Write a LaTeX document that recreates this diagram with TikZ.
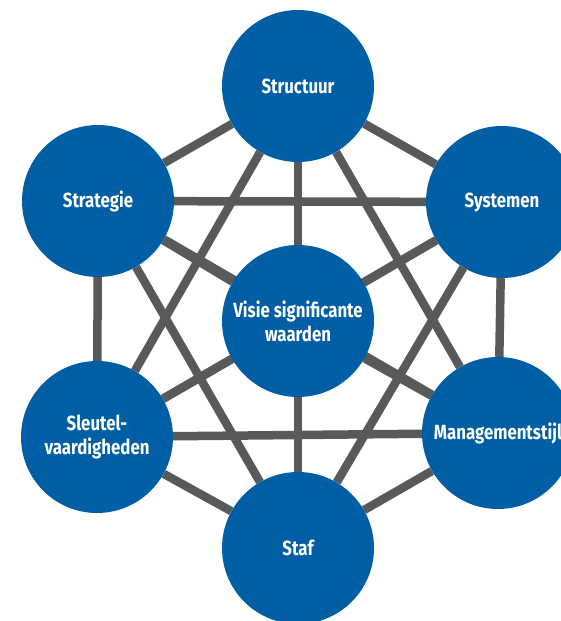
\documentclass[tikz,border=0pt]{standalone}
\usepackage{fontspec}
\newfontfamily\labelfont{Fira Sans}[FakeStretch=0.82]
\usetikzlibrary{backgrounds}
\definecolor{modelblue}{RGB}{0,94,165}
\definecolor{modelgray}{RGB}{88,89,91}

\begin{document}
\begin{tikzpicture}[x=1pt, y=-1pt,
    every node/.style={inner sep=0.001},
    element/.style={circle, fill=modelblue, minimum size=152pt, text=white,
      font=\labelfont\bfseries\fontsize{20.5}{24}\selectfont, align=center},
    link/.style={draw=modelgray, line width=8.5pt}]
  \useasboundingbox (0,0) rectangle (561,621);
  \clip (0,0) rectangle (561,621);

  % Elements
  \node[element] (structuur)  at (298,86)  {Structuur};
  \node[element] (strategie)  at (98,201)  {Strategie};
  \node[element] (systemen)   at (502,202) {Systemen};
  \node[element] (visie)      at (298,321) {Visie significante\\waarden};
  \node[element] (sleutel)    at (97,437)  {Sleutel-\\vaardigheden};
  \node[element] (management) at (498,433) {Managementstijl};
  \node[element] (staf)       at (298,548) {Staf};

  % Every element linked to every other one
  \begin{pgfonlayer}{background}
    \foreach \a [count=\i] in {structuur,strategie,systemen,visie,sleutel,management,staf} {
      \foreach \b [count=\j] in {structuur,strategie,systemen,visie,sleutel,management,staf} {
        \ifnum\j>\i
          \draw[link] (\a) -- (\b);
        \fi
      }
    }
  \end{pgfonlayer}
\end{tikzpicture}
\end{document}
